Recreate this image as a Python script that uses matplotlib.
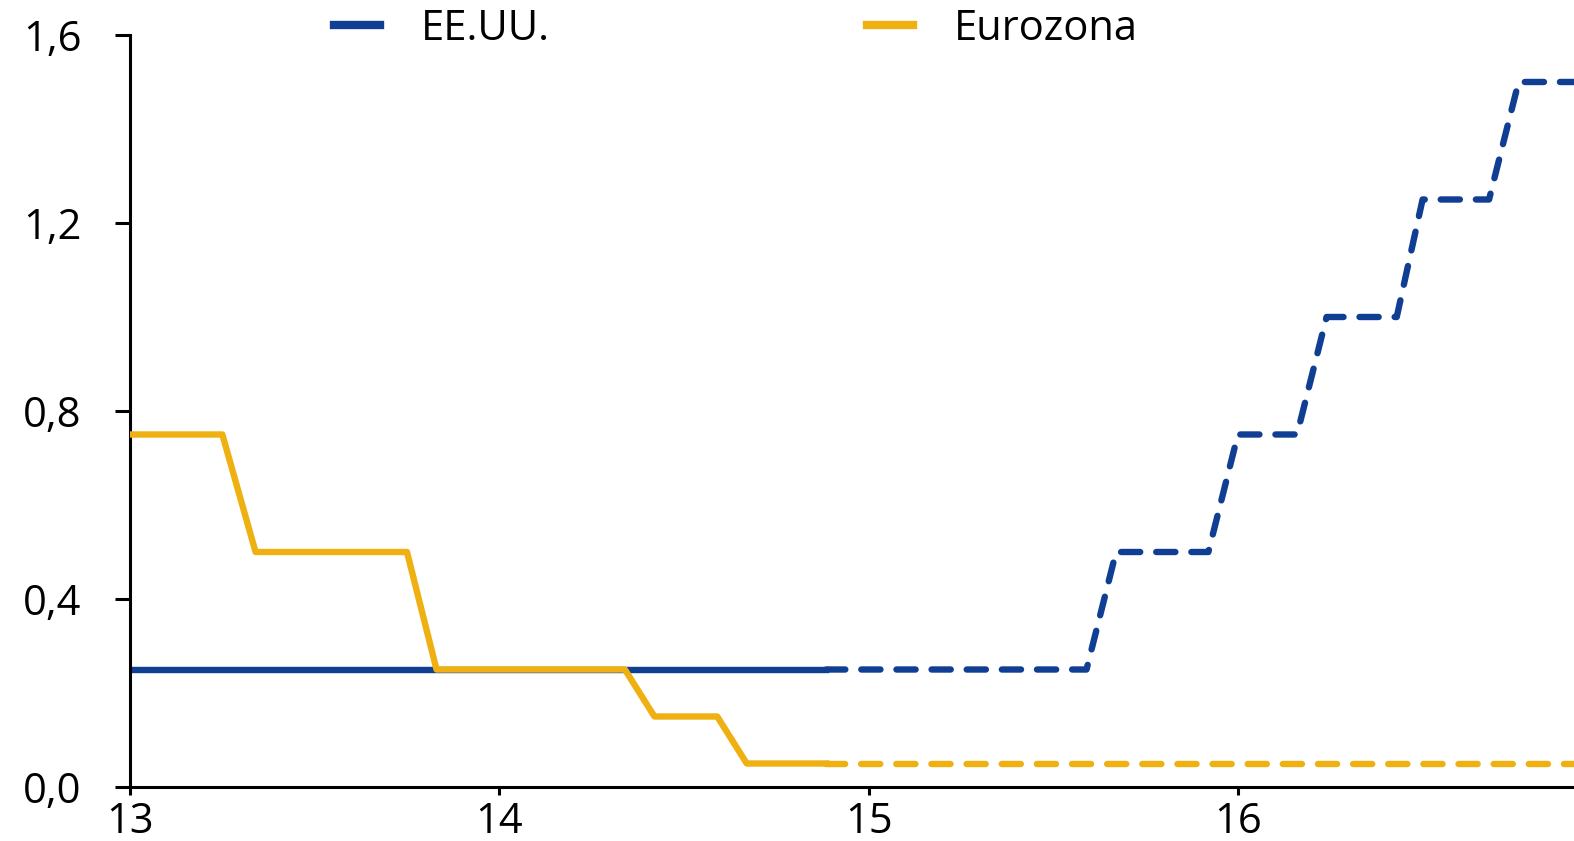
import matplotlib.pyplot as plt
from matplotlib.lines import Line2D
from matplotlib.ticker import FuncFormatter

plt.rcParams['font.family'] = ['Open Sans', 'DejaVu Sans']

# EE.UU. - observed (solid) and expected (dashed)
us_x_obs = [13.0, 14.885]
us_y_obs = [0.25, 0.25]
us_x_proj = [14.885, 15.59, 15.67, 15.92, 16.0, 16.16, 16.24, 16.43, 16.5, 16.68, 16.76, 16.91]
us_y_proj = [0.25, 0.25, 0.5, 0.5, 0.75, 0.75, 1.0, 1.0, 1.25, 1.25, 1.5, 1.5]

# Eurozona
ez_x_obs = [13.0, 13.25, 13.34, 13.75, 13.83, 14.34, 14.42, 14.59, 14.67, 14.885]
ez_y_obs = [0.75, 0.75, 0.5, 0.5, 0.25, 0.25, 0.15, 0.15, 0.05, 0.05]
ez_x_proj = [14.885, 16.91]
ez_y_proj = [0.05, 0.05]

xticks = [13, 14, 15, 16]
yticks = [0.0, 0.4, 0.8, 1.2, 1.6]

blue = '#0f3e93'
yellow = '#efb012'

fig = plt.figure(figsize=(15.74, 8.41), dpi=100)
ax = fig.add_axes([0.0826, 0.0642, 0.9174, 0.8942])

lw = 4.6
dash = (0, (3.0, 2.5))
ax.plot(us_x_obs, us_y_obs, color=blue, lw=lw, solid_joinstyle='round', zorder=2)
ax.plot(us_x_proj, us_y_proj, color=blue, lw=lw, ls=dash,
        dash_capstyle='round', zorder=2)
ax.plot(ez_x_obs, ez_y_obs, color=yellow, lw=lw, solid_joinstyle='round', zorder=3)
ax.plot(ez_x_proj, ez_y_proj, color=yellow, lw=lw, ls=dash,
        dash_capstyle='round', zorder=3)

ax.set_xlim(13, 16.91)
ax.set_ylim(0, 1.6)
ax.set_xticks(xticks)
ax.set_yticks(yticks)
ax.yaxis.set_major_formatter(FuncFormatter(lambda v, p: f'{v:.1f}'.replace('.', ',')))

for s in ['top', 'right']:
    ax.spines[s].set_visible(False)
for s in ['left', 'bottom']:
    ax.spines[s].set_linewidth(2.2)

ax.tick_params(axis='y', length=11, width=2.2, pad=24, labelsize=30)
ax.tick_params(axis='x', length=6, width=2.2, pad=4, labelsize=30)

handles = [Line2D([], [], color=blue, lw=6), Line2D([], [], color=yellow, lw=6)]
fig.legend(handles, ['EE.UU.', 'Eurozona'], ncol=2, frameon=False,
           loc='center left', bbox_to_anchor=(0.212, 0.966), fontsize=30,
           handlelength=1.1, handletextpad=1.0, columnspacing=7.6,
           borderaxespad=0, borderpad=0)

fig.savefig('out.png', dpi=100)
